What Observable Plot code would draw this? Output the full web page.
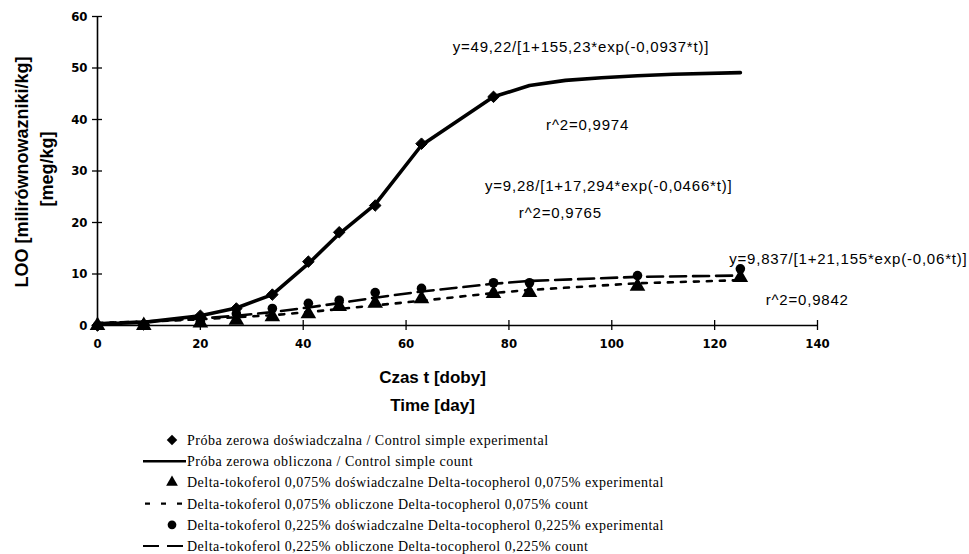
<!DOCTYPE html>
<html>
<head>
<meta charset="utf-8">
<script src="https://cdn.jsdelivr.net/npm/d3@7"></script>
<script src="https://cdn.jsdelivr.net/npm/@observablehq/plot@0.6"></script>
<style>
  html, body { margin: 0; padding: 0; background: #fff; }
  #chart svg { display: block; }
  #legend svg { display: block; }
  .ann text { letter-spacing: 0.8px; }
</style>
</head>
<body>
<div id="chart"></div>
<div id="legend"></div>
<script>
// ---- data ----
const days = [0, 9, 20, 27, 34, 41, 47, 54, 63, 77, 84, 105, 125];
const controlExpDays = [0, 9, 20, 27, 34, 41, 47, 54, 63, 77];
const controlExp = [0, 0.2, 1.9, 3.3, 6.0, 12.4, 18.1, 23.3, 35.3, 44.4];
const controlCalcDays = [0, 9, 20, 27, 34, 41, 47, 54, 63, 77, 84, 91, 98, 105, 112, 125];
const controlCalc = [0.3, 0.6, 1.9, 3.4, 6.0, 12.0, 17.8, 23.5, 35.0, 44.4, 46.6, 47.6, 48.1, 48.5, 48.8, 49.1];
const toco075Exp = [0, 0, 0.5, 1.0, 1.7, 2.3, 3.7, 4.3, 5.2, 6.2, 6.4, 7.6, 9.3];
const toco075Calc = [0.5, 0.75, 1.2, 1.6, 2.0, 2.6, 3.2, 3.9, 4.8, 6.3, 6.9, 8.2, 8.8];
const toco225Exp = [0, 0.1, 0.8, 2.3, 3.3, 4.3, 4.9, 6.4, 7.2, 8.3, 8.3, 9.7, 11.0];
const toco225Calc = [0.45, 0.75, 1.35, 1.9, 2.6, 3.5, 4.35, 5.4, 6.6, 8.1, 8.65, 9.45, 9.7];
const xTicks = [0, 20, 40, 60, 80, 100, 120, 140];
const yTicks = [0, 10, 20, 30, 40, 50, 60];

const xLabel = "Czas t [doby]";
const xLabel2 = "Time [day]";
const yLabel = "LOO [milirównowazniki/kg]";
const yLabel2 = "[meg/kg]";

const annotations = [
  {t: 94, v: 54.0, text: "y=49,22/[1+155,23*exp(-0,0937*t)]"},
  {t: 95.3, v: 38.8, text: "r^2=0,9974"},
  {t: 99.4, v: 27.0, text: "y=9,28/[1+17,294*exp(-0,0466*t)]"},
  {t: 90, v: 21.9, text: "r^2=0,9765"},
  {t: 146, v: 12.8, text: "y=9,837/[1+21,155*exp(-0,06*t)]"},
  {t: 138, v: 4.85, text: "r^2=0,9842"}
];

const legendItems = [
  {kind: "diamond", text: "Próba zerowa doświadczalna / Control simple experimental"},
  {kind: "solid", text: "Próba zerowa obliczona / Control simple count"},
  {kind: "triangle", text: "Delta-tokoferol 0,075% doświadczalne Delta-tocopherol 0,075% experimental"},
  {kind: "short", text: "Delta-tokoferol 0,075% obliczone Delta-tocopherol 0,075% count"},
  {kind: "circle", text: "Delta-tokoferol 0,225% doświadczalne Delta-tocopherol 0,225% experimental"},
  {kind: "long", text: "Delta-tokoferol 0,225% obliczone Delta-tocopherol 0,225% count"}
];

// ---- tables ----
const ctrlExp = controlExpDays.map((t, i) => ({t, v: controlExp[i]}));
const ctrlCalc = controlCalcDays.map((t, i) => ({t, v: controlCalc[i]}));
const t075e = days.map((t, i) => ({t, v: toco075Exp[i]}));
const t075c = days.map((t, i) => ({t, v: toco075Calc[i]}));
const t225e = days.map((t, i) => ({t, v: toco225Exp[i]}));
const t225c = days.map((t, i) => ({t, v: toco225Calc[i]}));

const sans = "'Liberation Sans', Arial, sans-serif";
const tickFont = "'DejaVu Sans Condensed', 'DejaVu Sans', sans-serif";
const W = 969, H = 420;

const chart = Plot.plot({
  width: W,
  height: H,
  marginLeft: 97,
  marginRight: 152,
  marginTop: 16,
  marginBottom: 95,
  style: {fontFamily: sans, fontSize: "13px", color: "#000", background: "#fff"},
  x: {domain: [0, 140]},
  y: {domain: [0, 60]},
  marks: [
    // crossing ticks
    Plot.axisX({ticks: xTicks, tickSize: 10, dy: -5, text: null, label: null, strokeWidth: 1.3}),
    Plot.axisX({ticks: xTicks, tickSize: 0, tickPadding: 13, label: null, fontSize: 13, fontWeight: "bold", fontFamily: tickFont}),
    Plot.axisY({ticks: yTicks, tickSize: 10, dx: 5, text: null, label: null, strokeWidth: 1.3}),
    Plot.axisY({ticks: yTicks, tickSize: 0, tickPadding: 10, label: null, fontSize: 13, fontWeight: "bold", fontFamily: tickFont}),
    Plot.ruleY([0], {stroke: "#000", strokeWidth: 1.6}),
    Plot.ruleX([0], {stroke: "#000", strokeWidth: 1.6}),
    // calculated curves
    Plot.line(t075c, {x: "t", y: "v", stroke: "#000", strokeWidth: 2.6, strokeDasharray: "5,8"}),
    Plot.line(t225c, {x: "t", y: "v", stroke: "#000", strokeWidth: 2.6, strokeDasharray: "16,7"}),
    Plot.line(ctrlCalc, {x: "t", y: "v", stroke: "#000", strokeWidth: 3.6}),
    // experimental points
    Plot.dot(t075e, {x: "t", y: "v", symbol: "triangle", fill: "#000", r: 5.8}),
    Plot.dot(t225e, {x: "t", y: "v", symbol: "circle", fill: "#000", r: 4.8}),
    Plot.dot(ctrlExp, {x: "t", y: "v", symbol: "diamond2", fill: "#000", stroke: "#000", strokeWidth: 1, r: 5.2}),
    // annotations
    Plot.text(annotations, {x: "t", y: "v", text: "text", fontSize: 15, fill: "#000",
      fontFamily: sans, textAnchor: "middle", className: "ann"}),
    // axis titles
    Plot.text([xLabel], {frameAnchor: "bottom", dx: -25, dy: 57, fontSize: 17, fontWeight: "bold", fill: "#000", fontFamily: sans}),
    Plot.text([xLabel2], {frameAnchor: "bottom", dx: -25, dy: 85, fontSize: 17, fontWeight: "bold", fill: "#000", fontFamily: sans}),
    Plot.text([yLabel], {frameAnchor: "left", rotate: -90, textAnchor: "middle", dx: -75, dy: 1, fontSize: 18, fontWeight: "bold", fill: "#000", fontFamily: sans}),
    Plot.text([yLabel2], {frameAnchor: "left", rotate: -90, textAnchor: "middle", dx: -50, dy: -2, fontSize: 18, fontWeight: "bold", fill: "#000", fontFamily: sans})
  ]
});
document.getElementById("chart").appendChild(chart);

// ---- legend ----
const LH = 554 - H;
const lg = d3.select("#legend").append("svg").attr("width", W).attr("height", LH);
const rowY = i => (440 - H) + i * 21.2;
const symGen = {
  diamond: d3.symbol(d3.symbolDiamond2, 70),
  triangle: d3.symbol(d3.symbolTriangle, 60),
  circle: d3.symbol(d3.symbolCircle, 60)
};
legendItems.forEach((d, i) => {
  const y = rowY(i);
  const g = lg.append("g");
  if (symGen[d.kind]) {
    g.append("path").attr("d", symGen[d.kind]()).attr("transform", `translate(172,${y})`).attr("fill", "#000");
  } else if (d.kind === "solid") {
    g.append("line").attr("x1", 143).attr("x2", 186).attr("y1", y).attr("y2", y).attr("stroke", "#000").attr("stroke-width", 2.6);
  } else if (d.kind === "short") {
    g.append("line").attr("x1", 145).attr("x2", 182).attr("y1", y).attr("y2", y).attr("stroke", "#000").attr("stroke-width", 2.2).attr("stroke-dasharray", "5,11");
  } else if (d.kind === "long") {
    g.append("line").attr("x1", 143).attr("x2", 186).attr("y1", y).attr("y2", y).attr("stroke", "#000").attr("stroke-width", 2.2).attr("stroke-dasharray", "16,8");
  }
  g.append("text").attr("x", 187).attr("y", y).attr("dy", "0.35em")
    .attr("font-family", "'Liberation Serif', 'Times New Roman', serif")
    .attr("font-size", 14).attr("letter-spacing", "0.5px").attr("fill", "#000").text(d.text);
});
</script>
</body>
</html>
